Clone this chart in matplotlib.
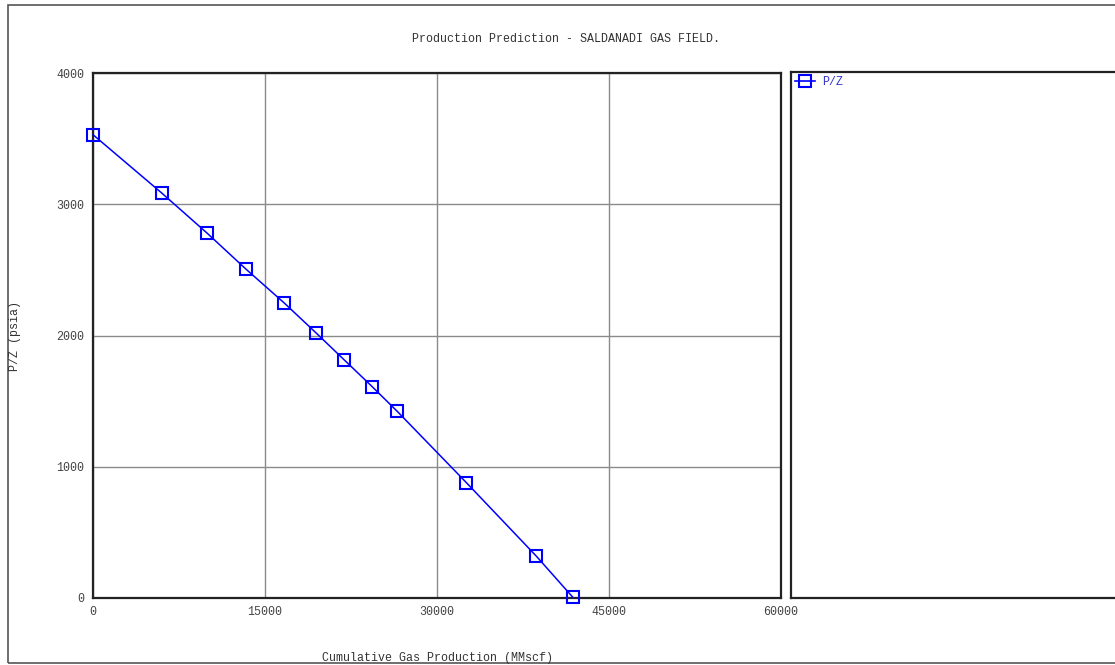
import matplotlib
matplotlib.use("Agg")
import matplotlib.pyplot as plt
from matplotlib.patches import Rectangle
from matplotlib.lines import Line2D

# Data
cum_gas = [0, 6000, 9950, 13350, 16650, 19450, 21900, 24350, 26500, 32550, 38650, 41850]
pz = [3530, 3085, 2780, 2505, 2250, 2020, 1815, 1610, 1425, 880, 320, 5]
x_ticks = [0, 15000, 30000, 45000, 60000]
y_ticks = [0, 1000, 2000, 3000, 4000]
title = "Production Prediction - SALDANADI GAS FIELD."
xlabel = "Cumulative Gas Production (MMscf)"
ylabel = "P/Z (psia)"
series_label = "P/Z"

W, H = 1115, 665
fig = plt.figure(figsize=(W / 100, H / 100), dpi=100)
plt.rcParams['font.family'] = ['Liberation Mono', 'DejaVu Sans Mono']

def fx(px):
    return px / W

def fy(py):
    return 1 - py / H

# Outer border
fig.add_artist(Rectangle((fx(8), fy(663)), fx(1200) - fx(8), fy(5) - fy(663),
                         transform=fig.transFigure, fill=False, edgecolor='#555555', lw=1.2))

ax = fig.add_axes([fx(93), fy(598), fx(781) - fx(93), fy(73) - fy(598)])
ax.plot(cum_gas, pz, color='#0000ff', lw=1.1, marker='s', markersize=8.8,
        markerfacecolor='none', markeredgecolor='#0000ff', markeredgewidth=1.5,
        clip_on=False, zorder=5)
ax.set_xlim(0, 60000)
ax.set_ylim(0, 4000)
ax.set_xticks(x_ticks)
ax.set_yticks(y_ticks)
ax.grid(True, color='#8a8a8a', lw=1.0)
ax.tick_params(length=0, labelsize=8.4, labelcolor='#444444', pad=6)
for s in ax.spines.values():
    s.set_color('#222222')
    s.set_linewidth(1.6)

fig.text(fx(566), fy(39), title, ha='center', va='center', fontsize=8.4, color='#333333')
fig.text(fx(437), fy(658), xlabel, ha='center', va='center', fontsize=8.4, color='#333333')
fig.text(fx(15), fy(336), ylabel, ha='center', va='center', fontsize=8.4, color='#333333',
         rotation=90)

# Legend box
lax = fig.add_axes([fx(791), fy(598), fx(1200) - fx(791), fy(72) - fy(598)])
lax.set_xlim(0, 1)
lax.set_ylim(0, 1)
lax.set_xticks([])
lax.set_yticks([])
for s in lax.spines.values():
    s.set_color('#222222')
    s.set_linewidth(1.6)
leg = lax.legend(handles=[Line2D([], [], color='#0000ff', lw=1.2, marker='s', markersize=8.5,
                                 markerfacecolor='none', markeredgecolor='#0000ff',
                                 markeredgewidth=1.5)],
                 labels=[series_label], loc='upper left', frameon=False, fontsize=8.4,
                 handlelength=1.7, handletextpad=0.6, borderaxespad=0.05,
                 borderpad=0.3, labelcolor='#3333cc')

fig.savefig("out.png", dpi=100)
